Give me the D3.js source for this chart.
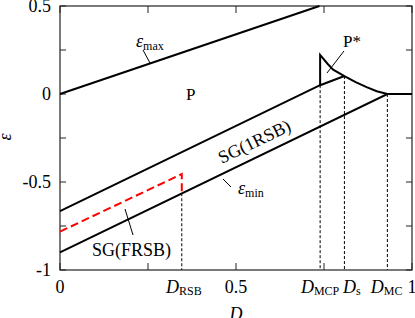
<!DOCTYPE html>
<html>
<head>
<meta charset="utf-8">
<script src="https://cdn.jsdelivr.net/npm/d3@7"></script>
<style>
  body { margin: 0; background: #fff; }
  text { font-family: "Liberation Serif", "DejaVu Serif", serif; fill: #000; }
</style>
</head>
<body>
<script>
"use strict";

// values
var epsMax   = [[0, 0], [0.737, 0.5]];
var upperSG  = [[0, -0.665], [0.739, 0.05], [0.808, 0.102]];
var lowerMin = [[0, -0.9], [0.93, 0], [1, 0]];
var frsb     = [[0, -0.782], [0.346, -0.455], [0.346, -0.564]];
var pStar    = [[0.739, 0.05], [0.739, 0.222], [0.76, 0.172], [0.776, 0.138], [0.808, 0.102],
                [0.84, 0.068], [0.871, 0.039], [0.90, 0.016], [0.93, 0]];
var vlines   = [[0.346, -0.564], [0.739, 0.05], [0.808, 0.102], [0.93, 0]];
var yTicks   = [-1, -0.75, -0.5, -0.25, 0, 0.25, 0.5];
var yLabels  = {"-1": "-1", "-0.5": "-0.5", "0": "0", "0.5": "0.5"};
var xTicks   = [0, 0.25, 0.5, 0.75, 1];
var xLabels  = [[0, "0"], [0.5, "0.5"], [1, "1"]];
var dLabels  = [[0.352, "RSB"], [0.739, "MCP"], [0.829, "s"], [0.928, "MC"]];

var width = 415, height = 318;
var x = d3.scaleLinear().domain([0, 1]).range([60, 412]);
var y = d3.scaleLinear().domain([-1, 0.5]).range([270, 6]);

var svg = d3.select("body").append("svg")
    .attr("width", width)
    .attr("height", height);

var line = d3.line().x(function(d) { return x(d[0]); }).y(function(d) { return y(d[1]); });

// dashed guides
svg.selectAll(".guide").data(vlines).enter().append("line")
  .attr("x1", function(d) { return x(d[0]); })
  .attr("x2", function(d) { return x(d[0]); })
  .attr("y1", function(d) { return y(d[1]); })
  .attr("y2", y(-1))
  .attr("stroke", "#000").attr("stroke-width", 1)
  .attr("stroke-dasharray", "3,2");

// frame + ticks
svg.append("rect")
  .attr("x", x(0)).attr("y", y(0.5))
  .attr("width", x(1) - x(0)).attr("height", y(-1) - y(0.5))
  .attr("fill", "none").attr("stroke", "#222").attr("stroke-width", 1.2);

yTicks.forEach(function(t) {
  svg.append("line").attr("x1", x(0)).attr("x2", x(0) + 6).attr("y1", y(t)).attr("y2", y(t))
    .attr("stroke", "#222");
  svg.append("line").attr("x1", x(1)).attr("x2", x(1) - 6).attr("y1", y(t)).attr("y2", y(t))
    .attr("stroke", "#222");
  if (yLabels[String(t)] !== undefined) {
    svg.append("text").attr("x", 51).attr("y", y(t) + 6)
      .attr("text-anchor", "end").style("font-size", "18px")
      .text(yLabels[String(t)]);
  }
});
xTicks.forEach(function(t) {
  svg.append("line").attr("x1", x(t)).attr("x2", x(t)).attr("y1", y(-1)).attr("y2", y(-1) - 7)
    .attr("stroke", "#222");
  svg.append("line").attr("x1", x(t)).attr("x2", x(t)).attr("y1", y(0.5)).attr("y2", y(0.5) + 7)
    .attr("stroke", "#222");
});
xLabels.forEach(function(d) {
  svg.append("text").attr("x", x(d[0])).attr("y", 293)
    .attr("text-anchor", "middle").style("font-size", "18px").text(d[1]);
});
dLabels.forEach(function(d) {
  var t = svg.append("text").attr("x", x(d[0])).attr("y", 293)
    .attr("text-anchor", "middle").style("font-size", "18px");
  t.append("tspan").style("font-style", "italic").text("D");
  t.append("tspan").attr("dy", 2).style("font-size", "12px").text(d[1]);
});

// axis titles
svg.append("text").attr("x", x(0.5)).attr("y", 320)
  .attr("text-anchor", "middle").style("font-size", "18px").style("font-style", "italic").text("D");
svg.append("text").attr("transform", "translate(11,137) rotate(-90)")
  .attr("text-anchor", "middle").style("font-size", "18px").style("font-style", "italic").text("ε");

// curves
[epsMax, upperSG, lowerMin, pStar].forEach(function(d) {
  svg.append("path").attr("d", line(d))
    .attr("fill", "none").attr("stroke", "#000").attr("stroke-width", 2);
});
svg.append("path").attr("d", line(frsb))
  .attr("fill", "none").attr("stroke", "#ff0000").attr("stroke-width", 2)
  .attr("stroke-dasharray", "8,4");

// annotations
function pointer(x1, y1, x2, y2) {
  svg.append("line").attr("x1", x1).attr("y1", y1).attr("x2", x2).attr("y2", y2)
    .attr("stroke", "#000").attr("stroke-width", 1);
}
function subLabel(px, py, sub) {
  var t = svg.append("text").attr("x", px).attr("y", py).style("font-size", "18px");
  t.append("tspan").style("font-style", "italic").text("ε");
  t.append("tspan").attr("dy", 3).style("font-size", "12px").text(sub);
}
subLabel(136, 47, "max");
pointer(143, 50, 150, 63);
subLabel(238, 194, "min");
pointer(223, 179, 231, 187);

svg.append("text").attr("x", 186).attr("y", 100).style("font-size", "17px").text("P");
svg.append("text").attr("x", 343).attr("y", 47).style("font-size", "17px").text("P*");
pointer(344, 51, 327, 73);

svg.append("text").attr("transform", "translate(257,147) rotate(-25.8)")
  .attr("text-anchor", "middle").style("font-size", "18px").text("SG(1RSB)");
svg.append("text").attr("x", 92).attr("y", 256).style("font-size", "18px").text("SG(FRSB)");
pointer(125, 209, 133, 235);
</script>
</body>
</html>
